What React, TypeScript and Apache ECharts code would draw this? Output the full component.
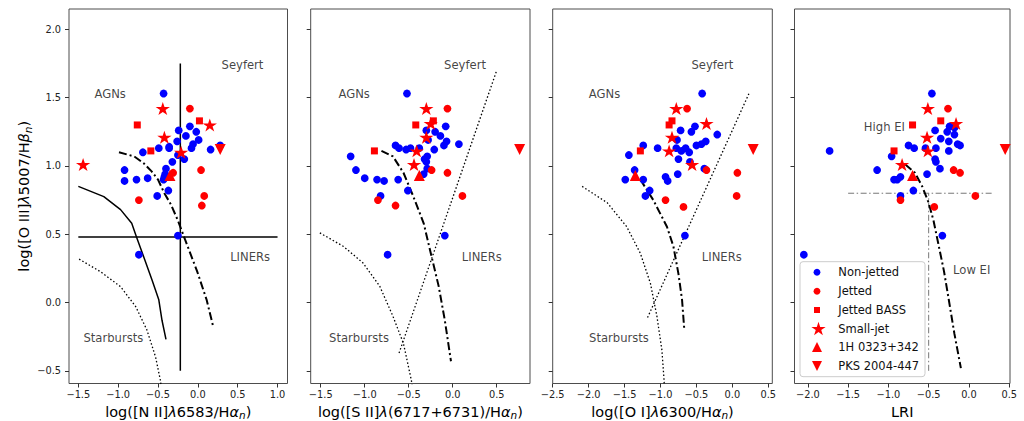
import React, { useEffect, useRef } from 'react';
import * as echarts from 'echarts';

// ---------- DATA ----------
// Panel 1: log([N II]/Ha) vs log([O III]/Hb)
const nonJettedNII = [[-0.43,1.53],[-0.24,1.26],[-0.10,1.29],[-0.02,1.25],[-0.15,1.22],[-0.26,1.18],[0.01,1.19],[-0.06,1.16],[-0.08,1.13],[0.28,1.15],[0.16,1.12],[-0.69,1.10],[-0.49,1.13],[-0.36,1.14],[-0.36,1.13],[-0.25,1.08],[-0.17,1.05],[-0.32,1.03],[-0.40,0.98],[-0.41,0.94],[-0.42,0.92],[-0.43,0.90],[-0.92,0.97],[-0.92,0.89],[-0.77,0.90],[-0.63,0.91],[-0.37,0.82],[-0.51,0.78],[-0.25,0.49],[-0.74,0.35]];
const jettedNII = [[-0.10,1.42],[0.04,0.97],[-0.31,0.95],[-0.74,0.75],[0.08,0.78],[0.05,0.71]];
const bassNII = [[-0.76,1.30],[0.02,1.33],[-0.59,1.11]];
const smallJetNII = [[-1.44,1.01],[-0.44,1.42],[0.15,1.30],[-0.42,1.21],[-0.21,1.10]];
const h0323NII = [[-0.35,0.93]];
const pks2004NII = [[0.28,1.12]];

// Panel 2: log([S II]/Ha)
const nonJettedSII = [[-0.52,1.53],[-0.08,1.29],[-0.30,1.26],[-0.20,1.25],[-0.14,1.22],[-0.28,1.19],[-0.07,1.18],[-0.10,1.15],[0.07,1.16],[-0.21,1.12],[-0.65,1.15],[-0.61,1.13],[-0.53,1.12],[-0.48,1.13],[-0.38,1.13],[-0.29,1.07],[-0.32,1.05],[-0.30,1.03],[-0.29,0.98],[-0.33,0.94],[-1.16,1.07],[-1.10,0.97],[-1.00,0.91],[-0.86,0.90],[-0.78,0.89],[-0.62,0.90],[-0.82,0.78],[-0.51,0.82],[-0.09,0.49],[-0.74,0.35]];
const jettedSII = [[-0.06,1.42],[-0.24,0.97],[-0.06,0.95],[0.11,0.78],[-0.85,0.75],[-0.65,0.71]];
const bassSII = [[-0.89,1.11],[-0.42,1.30],[-0.22,1.33]];
const smallJetSII = [[-0.30,1.42],[-0.25,1.31],[-0.30,1.21],[-0.41,1.11],[-0.44,1.01]];
const h0323SII = [[-0.38,0.93]];
const pks2004SII = [[0.76,1.12]];

// Panel 3: log([O I]/Ha)
const nonJettedOI = [[-0.42,1.53],[-0.52,1.29],[-0.72,1.26],[-0.57,1.25],[-0.21,1.23],[-0.77,1.19],[-0.50,1.15],[-0.43,1.16],[-0.37,1.18],[-1.24,1.15],[-1.04,1.13],[-0.78,1.13],[-0.71,1.11],[-0.65,1.13],[-0.60,1.10],[-0.75,1.05],[-1.44,1.08],[-0.59,1.03],[-1.36,0.97],[-0.39,0.98],[-1.49,0.90],[-1.24,0.90],[-0.93,0.92],[-0.90,0.89],[-0.76,0.94],[-1.15,0.82],[-1.21,0.78],[-0.66,0.49]];
const jettedOI = [[-0.63,1.42],[-0.36,0.97],[0.07,0.95],[0.06,0.78],[-0.93,0.75],[-0.68,0.70]];
const bassOI = [[-0.84,1.33],[-0.88,1.30],[-1.28,1.11]];
const smallJetOI = [[-0.78,1.42],[-0.36,1.31],[-0.84,1.21],[-0.88,1.11],[-0.56,1.01]];
const h0323OI = [[-1.35,0.93]];
const pks2004OI = [[0.29,1.12]];

// Panel 4: LRI
const nonJettedLRI = [[-0.46,1.53],[-0.24,1.29],[-0.18,1.28],[-0.27,1.25],[-0.42,1.26],[-0.18,1.23],[-0.35,1.20],[-0.25,1.18],[-0.14,1.16],[-0.11,1.15],[-0.75,1.15],[-0.68,1.13],[-0.54,1.13],[-0.41,1.13],[-0.25,1.11],[-1.73,1.11],[-0.96,1.07],[-0.42,1.05],[-0.41,1.03],[-0.36,0.98],[-1.14,0.97],[-0.52,0.94],[-0.93,0.90],[-0.89,0.90],[-0.85,0.92],[-0.69,0.82],[-0.85,0.78],[-0.33,0.49],[-2.05,0.35]];
const jettedLRI = [[-0.26,1.42],[-0.19,0.97],[-0.11,0.95],[0.08,0.78],[-0.85,0.75],[-0.43,0.70]];
const bassLRI = [[-0.35,1.33],[-0.70,1.30],[-0.93,1.11]];
const smallJetLRI = [[-0.51,1.42],[-0.16,1.31],[-0.52,1.21],[-0.51,1.11],[-0.83,1.01]];
const h0323LRI = [[-0.70,0.93]];
const pks2004LRI = [[0.45,1.12]];

// Demarcation lines
const niiVertical = [[-0.22,-0.5],[-0.22,1.75]];
const niiHorizontal = [[-1.5,0.48],[1.0,0.48]];
const niiSolidCurve = [[-1.5,0.85],[-1.18,0.775],[-0.97,0.68],[-0.83,0.58],[-0.77,0.48],[-0.68,0.335],[-0.575,0.165],[-0.49,0.02],[-0.45,-0.13],[-0.4,-0.27]];
const niiDottedCurve = [[-1.49,0.318],[-1.22,0.225],[-0.97,0.116],[-0.78,-0.03],[-0.64,-0.2],[-0.53,-0.4],[-0.47,-0.57],[-0.455,-0.64]];
const niiDashDot = [[-0.99,1.10],[-0.8,1.07],[-0.68,1.02],[-0.58,0.96],[-0.5,0.9],[-0.42,0.8],[-0.34,0.72],[-0.25,0.6],[-0.16,0.46],[-0.01,0.23],[0.11,0.02],[0.19,-0.17]];

const siiDashDot = [[-0.81,1.11],[-0.68,1.07],[-0.56,0.95],[-0.45,0.78],[-0.33,0.58],[-0.24,0.335],[-0.16,0.12],[-0.09,-0.13],[-0.02,-0.43]];
const siiSeyfertLiner = [[-0.61,-0.37],[0.5,1.70]];
const siiDottedCurve = [[-1.51,0.51],[-1.24,0.41],[-1.02,0.29],[-0.83,0.12],[-0.68,-0.10],[-0.56,-0.30],[-0.47,-0.57],[-0.455,-0.64]];

const oiDashDot = [[-1.28,0.90],[-1.1,0.75],[-0.91,0.555],[-0.82,0.41],[-0.75,0.21],[-0.70,0.02],[-0.67,-0.19]];
const oiSeyfertLiner = [[-1.18,-0.11],[0.24,1.54]];
const oiDottedCurve = [[-2.09,0.85],[-1.74,0.73],[-1.47,0.555],[-1.28,0.36],[-1.14,0.14],[-1.05,-0.10],[-0.98,-0.35],[-0.95,-0.57],[-0.945,-0.64]];

const lriDashDot = [[-0.79,1.01],[-0.67,0.95],[-0.58,0.85],[-0.5,0.73],[-0.44,0.6],[-0.38,0.43],[-0.31,0.23],[-0.25,0.02],[-0.18,-0.23],[-0.1,-0.48]];
const lriHorizontal = [[-1.5,0.8],[0.3,0.8]];
const lriVertical = [[-0.5,-0.5],[-0.5,0.8]];

// Tick values
const yTicks = [-0.5, 0, 0.5, 1.0, 1.5, 2.0];
const xTicksNII = [-1.5, -1.0, -0.5, 0, 0.5, 1.0];
const xTicksSII = [-1.5, -1.0, -0.5, 0, 0.5];
const xTicksOI = [-2.5, -2.0, -1.5, -1.0, -0.5, 0, 0.5];
const xTicksLRI = [-2.0, -1.5, -1.0, -0.5, 0, 0.5];

// Region labels (text, x, y) in data coords
const labelsNII = [['Seyfert',0.56,1.736],['AGNs',-1.10,1.53],['LINERs',0.656,0.335],['Starbursts',-1.06,-0.26]];
const labelsSII = [['Seyfert',0.14,1.736],['AGNs',-1.12,1.53],['LINERs',0.33,0.335],['Starbursts',-1.065,-0.26]];
const labelsOI = [['Seyfert',-0.278,1.736],['AGNs',-1.778,1.53],['LINERs',-0.147,0.335],['Starbursts',-1.578,-0.26]];
const labelsLRI = [['High EI',-1.05,1.287],['Low EI',0.034,0.238]];

const legendNames = ['Non-jetted', 'Jetted', 'Jetted BASS', 'Small-jet', '1H 0323+342', 'PKS 2004-447'];

// ---------- STYLE / LAYOUT ----------
const FONT = 'DejaVu Sans';
const BLUE = '#0000ff';
const RED = '#ff0000';
const Y_MIN = -0.593;
const Y_MAX = 2.149;
const STAR_PTS = [[0,-1],[0.2245,-0.309],[0.9511,-0.309],[0.3633,0.118],[0.5878,0.809],[0,0.382],[-0.5878,0.809],[-0.3633,0.118],[-0.9511,-0.309],[-0.2245,-0.309]];
const STAR = 'path://M' + STAR_PTS.map(p => p[0] + ',' + p[1]).join('L') + 'Z';

const panels = [
  { left: 69, width: 218.5, min: -1.617, max: 1.125, ticks: xTicksNII,
    name: '{a|log([N II]}{i|λ}{a|6583/H}{i|α}{s|n}{a|)}',
    pts: [nonJettedNII, jettedNII, bassNII, smallJetNII, h0323NII, pks2004NII], labels: labelsNII },
  { left: 310.7, width: 219.3, min: -1.614, max: 0.878, ticks: xTicksSII,
    name: '{a|log([S II]}{i|λ}{a|(6717+6731)/H}{i|α}{s|n}{a|)}',
    pts: [nonJettedSII, jettedSII, bassSII, smallJetSII, h0323SII, pks2004SII], labels: labelsSII },
  { left: 552.7, width: 219.6, min: -2.5, max: 0.556, ticks: xTicksOI,
    name: '{a|log([O I]}{i|λ}{a|6300/H}{i|α}{s|n}{a|)}',
    pts: [nonJettedOI, jettedOI, bassOI, smallJetOI, h0323OI, pks2004OI], labels: labelsOI },
  { left: 794.5, width: 215.5, min: -2.166, max: 0.51, ticks: xTicksLRI,
    name: '{a|LRI}',
    pts: [nonJettedLRI, jettedLRI, bassLRI, smallJetLRI, h0323LRI, pks2004LRI], labels: labelsLRI },
];

const markerStyles = [
  { symbol: 'circle', size: 7.8, color: BLUE, rotate: 0 },
  { symbol: 'circle', size: 7.8, color: RED, rotate: 0 },
  { symbol: 'rect', size: 7, color: RED, rotate: 0 },
  { symbol: STAR, size: [14.3, 13.6], color: RED, rotate: 0 },
  { symbol: 'triangle', size: 11, color: RED, rotate: 0 },
  { symbol: 'triangle', size: 11, color: RED, rotate: 180 },
];

const richName = {
  a: { fontFamily: FONT, fontSize: 14.5, color: '#000', lineHeight: 18 },
  i: { fontFamily: FONT, fontSize: 14.5, color: '#000', lineHeight: 18, fontStyle: 'italic' },
  s: { fontFamily: FONT, fontSize: 10.5, color: '#000', lineHeight: 11, fontStyle: 'italic', verticalAlign: 'bottom' },
};

const fmt = (v: number) => v.toFixed(1).replace('-', '\u2212');

function lineSeries(idx: number, data: number[][], kind: string) {
  let lineStyle: any;
  if (kind === 'solid') lineStyle = { color: '#000', width: 1.5, type: 'solid' };
  else if (kind === 'dashdot') lineStyle = { color: '#000', width: 2, type: [8, 3, 2, 3] };
  else if (kind === 'dotted') lineStyle = { color: '#000', width: 1.3, type: [1.5, 2.2] };
  else lineStyle = { color: '#777', width: 1, type: [6, 2.5, 1.5, 2.5] };
  return {
    type: 'line', xAxisIndex: idx, yAxisIndex: idx, data, showSymbol: false, symbol: 'none',
    lineStyle, z: 2, silent: true, clip: true,
  };
}

export default function App() {
  const ref = useRef<HTMLDivElement>(null);
  useEffect(() => {
    if (!ref.current) return;
    const chart = echarts.init(ref.current, null, { renderer: 'svg' });

    const grid = panels.map(p => ({
      left: p.left, top: 9, width: p.width, height: 374.5,
      outerBoundsMode: 'none', containLabel: false,
      show: true, borderColor: '#4d4d4d', borderWidth: 1, backgroundColor: '#fff',
    }));

    const xAxis = panels.map((p, i) => ({
      type: 'value', gridIndex: i, min: p.min, max: p.max, position: 'bottom',
      axisLine: { show: false, onZero: false },
      splitLine: { show: false },
      axisTick: { show: true, customValues: p.ticks, length: 4, lineStyle: { color: '#333', width: 1 } },
      axisLabel: { show: true, customValues: p.ticks, formatter: fmt, fontFamily: FONT, fontSize: 9.8, color: '#222', margin: 6 },
      name: p.name, nameLocation: 'middle', nameGap: 18.5,
      nameTextStyle: { rich: richName, fontFamily: FONT, fontSize: 14.5 },
    }));

    const yAxis = panels.map((p, i) => ({
      type: 'value', gridIndex: i, min: Y_MIN, max: Y_MAX, position: 'left',
      axisLine: { show: false, onZero: false },
      splitLine: { show: false },
      axisTick: { show: true, customValues: yTicks, length: 4, lineStyle: { color: '#333', width: 1 } },
      axisLabel: { show: i === 0, customValues: yTicks, formatter: fmt, fontFamily: FONT, fontSize: 9.8, color: '#222', margin: 8 },
      name: i === 0 ? '{a|log([O III]}{i|λ}{a|5007/H}{i|β}{s|n}{a|)}' : '',
      nameLocation: 'middle', nameGap: 32, nameRotate: 90,
      nameTextStyle: { rich: richName, fontFamily: FONT, fontSize: 14.5 },
    }));

    const series: any[] = [];
    // demarcation lines
    series.push(lineSeries(0, niiVertical, 'solid'));
    series.push(lineSeries(0, niiHorizontal, 'solid'));
    series.push(lineSeries(0, niiSolidCurve, 'solid'));
    series.push(lineSeries(0, niiDottedCurve, 'dotted'));
    series.push(lineSeries(0, niiDashDot, 'dashdot'));
    series.push(lineSeries(1, siiDashDot, 'dashdot'));
    series.push(lineSeries(1, siiSeyfertLiner, 'dotted'));
    series.push(lineSeries(1, siiDottedCurve, 'dotted'));
    series.push(lineSeries(2, oiDashDot, 'dashdot'));
    series.push(lineSeries(2, oiSeyfertLiner, 'dotted'));
    series.push(lineSeries(2, oiDottedCurve, 'dotted'));
    series.push(lineSeries(3, lriHorizontal, 'gray'));
    series.push(lineSeries(3, lriVertical, 'gray'));
    series.push(lineSeries(3, lriDashDot, 'dashdot'));

    panels.forEach((p, i) => {
      p.pts.forEach((data, k) => {
        const m = markerStyles[k];
        series.push({
          type: 'scatter', name: legendNames[k], xAxisIndex: i, yAxisIndex: i, data,
          symbol: m.symbol, symbolSize: m.size, symbolRotate: m.rotate, symbolKeepAspect: true,
          itemStyle: { color: m.color, opacity: 1 }, z: 3 + k, silent: true,
        });
      });
      series.push({
        type: 'scatter', xAxisIndex: i, yAxisIndex: i, symbolSize: 0, silent: true, z: 10,
        data: p.labels.map(l => ({ name: l[0], value: [l[1], l[2]] })),
        label: { show: true, position: 'inside', formatter: '{b}', fontFamily: FONT, fontSize: 11.6, color: '#111' },
      });
    });

    // Legend (drawn with graphic)
    const lx = 817, tx = 838.3;
    const rows = [272.3, 291.3, 310, 328.5, 347, 366];
    const graphics: any[] = [
      { type: 'rect', shape: { x: 800, y: 261.7, width: 125, height: 115, r: 3 },
        style: { fill: 'rgba(255,255,255,0.85)', stroke: '#cccccc', lineWidth: 1 }, z: 100 },
      { type: 'circle', shape: { cx: lx, cy: rows[0], r: 3.4 }, style: { fill: BLUE }, z: 101 },
      { type: 'circle', shape: { cx: lx, cy: rows[1], r: 3.4 }, style: { fill: RED }, z: 101 },
      { type: 'rect', shape: { x: lx - 3, y: rows[2] - 3, width: 6, height: 6 }, style: { fill: RED }, z: 101 },
      { type: 'polygon', shape: { points: STAR_PTS.map(q => [lx + 1.5 + q[0] * 7.5, rows[3] + 0.7 + q[1] * 7.5]) }, style: { fill: RED }, z: 101 },
      { type: 'polygon', shape: { points: [[lx, rows[4] - 5], [lx - 5, rows[4] + 5], [lx + 5, rows[4] + 5]] }, style: { fill: RED }, z: 101 },
      { type: 'polygon', shape: { points: [[lx, rows[5] + 5], [lx - 5, rows[5] - 5], [lx + 5, rows[5] - 5]] }, style: { fill: RED }, z: 101 },
    ];
    legendNames.forEach((n, k) => {
      graphics.push({ type: 'text', x: tx, y: rows[k], z: 101,
        style: { text: n, fontFamily: FONT, fontSize: 11.5, fill: '#111', verticalAlign: 'middle', align: 'left' } });
    });

    chart.setOption({
      animation: false,
      backgroundColor: '#fff',
      textStyle: { fontFamily: FONT },
      grid, xAxis, yAxis, series,
      graphic: { elements: graphics },
    });
    return () => chart.dispose();
  }, []);

  return <div ref={ref} style={{ position: 'absolute', left: 0, top: 0, width: 1024, height: 421 }} />;
}
